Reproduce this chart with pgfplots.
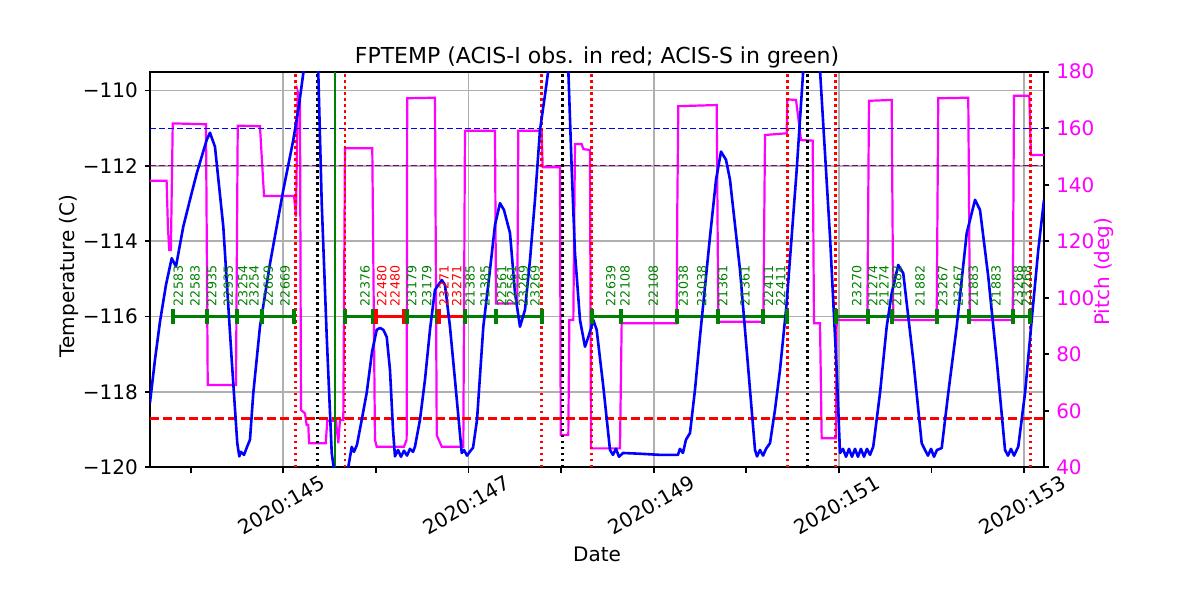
\documentclass[border=0pt]{standalone}
\usepackage{fontspec}
\setmainfont{DejaVu Sans}
\usepackage{pgfplots}
\pgfplotsset{compat=1.18}
\definecolor{mgreen}{HTML}{008000}
\definecolor{mpurple}{HTML}{800080}
\definecolor{mgray}{HTML}{B0B0B0}
\definecolor{mmag}{HTML}{FF00FF}
\definecolor{mblue}{HTML}{0000FF}
\definecolor{mred}{HTML}{FF0000}
\pgfplotsset{
  obs/.style={line width=1.5pt, mark=|, mark size=3.75pt, mark options={solid, line width=2pt}},
  vdot/.style={line width=1.35pt, dash pattern=on 1.4pt off 1.6pt},
}
\tikzset{lab/.style={rotate=90, anchor=west, inner sep=0pt, font=\fontsize{6.3}{7.5}\selectfont}}
\begin{document}
\begin{tikzpicture}
\begin{axis}[
  set layers,
  at={(0,0)}, anchor=south west, scale only axis,
  width=447pt, height=197.8pt,
  xmin=143.5605, xmax=153.2149, ymin=-120, ymax=-109.5,
  xtick={145,147,149,151,153},
  xticklabels={2020:145,2020:147,2020:149,2020:151,2020:153},
  minor xtick={144,146,148,150,152},
  ytick={-120,-118,-116,-114,-112,-110},
  yticklabels={−120,−118,−116,−114,−112,−110},
  xtick pos=left, ytick pos=left,
  tick align=outside,
  major tick length=2.6pt, minor tick length=2.6pt,
  tick style={black, line width=0.9pt},
  xmajorgrids, ymajorgrids,
  major grid style={mgray, line width=0.85pt},
  axis line style={line width=1.15pt},
  tick label style={font=\fontsize{10}{12}\selectfont},
  xticklabel style={anchor=center, yshift=-16.3pt, xshift=-1pt, rotate=30},
  every axis title/.style={at={(0.5,1)}, anchor=base, yshift=4.2pt, font=\fontsize{11}{13}\selectfont},
  every axis x label/.style={at={(axis description cs:0.5,0)}, anchor=base, yshift=-47.2pt, font=\fontsize{10}{12}\selectfont},
  every axis y label/.style={at={(axis description cs:-0.0906,0.484)}, anchor=center, rotate=90, font=\fontsize{10}{12}\selectfont},
  title={FPTEMP (ACIS-I obs. in red; ACIS-S in green)},
  xlabel={Date}, ylabel={Temperature (C)},
]
% limit lines
\addplot[mblue, line width=0.55pt, dash pattern=on 3pt off 1.5pt] coordinates {(143.5605,-111) (153.2149,-111)};
\addplot[mpurple, line width=0.55pt, dash pattern=on 3pt off 1.5pt] coordinates {(143.5605,-112) (153.2149,-112)};
\addplot[mred, line width=1.4pt, dash pattern=on 4.5pt off 2pt] coordinates {(143.5605,-118.7) (153.2149,-118.7)};
% vertical markers
\addplot[mred, vdot] coordinates {(145.132,-120) (145.132,-109.5)};
\addplot[mred, vdot] coordinates {(145.666,-120) (145.666,-109.5)};
\addplot[mred, vdot] coordinates {(147.790,-120) (147.790,-109.5)};
\addplot[mred, vdot] coordinates {(148.330,-120) (148.330,-109.5)};
\addplot[mred, vdot] coordinates {(150.443,-120) (150.443,-109.5)};
\addplot[mred, vdot] coordinates {(150.965,-120) (150.965,-109.5)};
\addplot[mred, vdot] coordinates {(153.067,-120) (153.067,-109.5)};
\addplot[black, vdot] coordinates {(145.370,-120) (145.370,-109.5)};
\addplot[black, vdot] coordinates {(148.013,-120) (148.013,-109.5)};
\addplot[black, vdot] coordinates {(150.661,-120) (150.661,-109.5)};
\addplot[mgreen, line width=1.35pt] coordinates {(145.558,-120) (145.558,-109.5)};
% observations
\addplot[mgreen, obs] coordinates {(143.806,-116) (144.173,-116) (144.503,-116) (144.767,-116) (145.119,-116)};
\addplot[mgreen, obs] coordinates {(145.666,-116) (145.965,-116)};
\addplot[mred, obs] coordinates {(146.001,-116) (146.303,-116)};
\addplot[mgreen, obs] coordinates {(146.333,-116) (146.663,-116)};
\addplot[mred, obs] coordinates {(146.685,-116) (146.962,-116)};
\addplot[mgreen, obs] coordinates {(146.962,-116) (147.294,-116) (147.790,-116)};
\addplot[mgreen, obs] coordinates {(148.330,-116) (148.647,-116) (149.248,-116) (149.691,-116) (150.180,-116) (150.436,-116)};
\addplot[mgreen, obs] coordinates {(150.965,-116) (151.311,-116) (151.570,-116) (152.056,-116) (152.402,-116) (152.880,-116) (153.067,-116)};
% FPTEMP
\addplot[mblue, line width=1.3pt, line join=round] coordinates {
(143.560,-118.29) (143.614,-117.15) (143.668,-116.14) (143.733,-115.16) (143.795,-114.45) (143.841,-114.67) (143.920,-113.61) (143.992,-112.90) (144.065,-112.20) (144.173,-111.31) (144.208,-111.12) (144.262,-111.49) (144.352,-113.61) (144.443,-117.15) (144.503,-119.36) (144.525,-119.71) (144.543,-119.59) (144.576,-119.67) (144.608,-119.46) (144.640,-119.27) (144.676,-118.03) (144.748,-116.27) (144.856,-114.60) (145.000,-112.64) (145.108,-111.31) (145.170,-110.38) (145.216,-109.54) (145.267,-108.40) (145.332,-108.40) (145.378,-109.54) (145.415,-112.99) (145.469,-116.53) (145.523,-119.62) (145.548,-120.07) (145.591,-120.60) (145.655,-120.60) (145.702,-119.99) (145.739,-119.46) (145.763,-119.59) (145.796,-119.40) (145.847,-118.74) (145.901,-118.02) (145.958,-116.94) (146.009,-116.35) (146.044,-116.30) (146.080,-116.35) (146.117,-116.54) (146.152,-117.41) (146.185,-119.01) (146.206,-119.71) (146.239,-119.54) (146.271,-119.72) (146.303,-119.56) (146.336,-119.69) (146.368,-119.51) (146.401,-119.59) (146.422,-119.45) (146.476,-118.74) (146.530,-117.68) (146.584,-116.35) (146.638,-115.29) (146.711,-115.03) (146.746,-115.16) (146.800,-116.27) (146.854,-117.68) (146.927,-119.62) (146.951,-119.54) (146.984,-119.69) (147.016,-119.58) (147.049,-119.48) (147.092,-118.74) (147.160,-116.27) (147.232,-114.76) (147.286,-113.57) (147.340,-112.99) (147.383,-113.17) (147.448,-113.78) (147.502,-115.37) (147.556,-116.27) (147.610,-115.82) (147.664,-114.50) (147.718,-112.90) (147.772,-111.05) (147.826,-110.12) (147.862,-109.46) (147.912,-108.40) (148.042,-108.40) (148.078,-109.46) (148.115,-112.11) (148.150,-114.32) (148.204,-116.09) (148.258,-116.80) (148.301,-116.49) (148.348,-116.09) (148.384,-116.35) (148.456,-117.86) (148.528,-119.54) (148.560,-119.67) (148.593,-119.51) (148.625,-119.72) (148.669,-119.62) (148.852,-119.64) (149.068,-119.67) (149.262,-119.67) (149.284,-119.51) (149.316,-119.62) (149.348,-119.27) (149.392,-119.09) (149.446,-117.94) (149.500,-116.53) (149.608,-113.88) (149.673,-112.37) (149.727,-111.62) (149.781,-111.84) (149.824,-112.37) (149.932,-114.76) (150.022,-117.41) (150.094,-119.54) (150.116,-119.71) (150.148,-119.54) (150.181,-119.69) (150.213,-119.51) (150.256,-119.36) (150.310,-118.47) (150.364,-117.41) (150.436,-115.64) (150.544,-112.11) (150.615,-109.46) (150.666,-108.40) (150.753,-108.40) (150.796,-109.46) (150.904,-113.88) (150.976,-117.41) (151.012,-119.62) (151.044,-119.51) (151.077,-119.72) (151.109,-119.51) (151.141,-119.72) (151.174,-119.51) (151.206,-119.72) (151.238,-119.51) (151.271,-119.72) (151.303,-119.51) (151.336,-119.67) (151.371,-119.45) (151.444,-118.03) (151.516,-116.27) (151.570,-115.38) (151.641,-114.63) (151.695,-114.85) (151.803,-117.15) (151.894,-119.36) (151.930,-119.54) (151.962,-119.69) (151.995,-119.51) (152.027,-119.72) (152.059,-119.54) (152.110,-119.49) (152.181,-118.03) (152.272,-116.27) (152.380,-113.79) (152.470,-112.90) (152.524,-113.17) (152.613,-114.94) (152.704,-117.15) (152.794,-119.54) (152.826,-119.69) (152.858,-119.51) (152.891,-119.69) (152.937,-119.45) (153.010,-118.03) (153.082,-116.09) (153.153,-114.23) (153.215,-112.90)
};
% observation labels
\node[lab, text=mgreen] at (axis cs:143.866,-115.73) {22583};
\node[lab, text=mgreen] at (axis cs:144.046,-115.73) {22583};
\node[lab, text=mgreen] at (axis cs:144.227,-115.73) {22935};
\node[lab, text=mgreen] at (axis cs:144.406,-115.73) {22935};
\node[lab, text=mgreen] at (axis cs:144.562,-115.73) {23254};
\node[lab, text=mgreen] at (axis cs:144.684,-115.73) {23254};
\node[lab, text=mgreen] at (axis cs:144.838,-115.73) {22669};
\node[lab, text=mgreen] at (axis cs:145.018,-115.73) {22669};
\node[lab, text=mgreen] at (axis cs:145.882,-115.73) {22376};
\node[lab, text=mred] at (axis cs:146.063,-115.73) {22480};
\node[lab, text=mred] at (axis cs:146.206,-115.73) {22480};
\node[lab, text=mgreen] at (axis cs:146.387,-115.73) {23179};
\node[lab, text=mgreen] at (axis cs:146.549,-115.73) {23179};
\node[lab, text=mred] at (axis cs:146.735,-115.73) {23271};
\node[lab, text=mred] at (axis cs:146.873,-115.73) {23271};
\node[lab, text=mgreen] at (axis cs:147.016,-115.73) {21385};
\node[lab, text=mgreen] at (axis cs:147.178,-115.73) {21385};
\node[lab, text=mgreen] at (axis cs:147.359,-115.73) {22561};
\node[lab, text=mgreen] at (axis cs:147.467,-115.73) {22561};
\node[lab, text=mgreen] at (axis cs:147.592,-115.73) {23269};
\node[lab, text=mgreen] at (axis cs:147.718,-115.73) {23269};
\node[lab, text=mgreen] at (axis cs:148.536,-115.73) {22639};
\node[lab, text=mgreen] at (axis cs:148.690,-115.73) {22108};
\node[lab, text=mgreen] at (axis cs:148.996,-115.73) {22108};
\node[lab, text=mgreen] at (axis cs:149.320,-115.73) {23038};
\node[lab, text=mgreen] at (axis cs:149.518,-115.73) {23038};
\node[lab, text=mgreen] at (axis cs:149.745,-115.73) {21361};
\node[lab, text=mgreen] at (axis cs:149.986,-115.73) {21361};
\node[lab, text=mgreen] at (axis cs:150.238,-115.73) {22411};
\node[lab, text=mgreen] at (axis cs:150.372,-115.73) {22411};
\node[lab, text=mgreen] at (axis cs:151.192,-115.73) {23270};
\node[lab, text=mgreen] at (axis cs:151.365,-115.73) {21274};
\node[lab, text=mgreen] at (axis cs:151.487,-115.73) {21274};
\node[lab, text=mgreen] at (axis cs:151.624,-115.73) {21882};
\node[lab, text=mgreen] at (axis cs:151.876,-115.73) {21882};
\node[lab, text=mgreen] at (axis cs:152.121,-115.73) {23267};
\node[lab, text=mgreen] at (axis cs:152.289,-115.73) {23267};
\node[lab, text=mgreen] at (axis cs:152.451,-115.73) {21883};
\node[lab, text=mgreen] at (axis cs:152.697,-115.73) {21883};
\node[lab, text=mgreen] at (axis cs:152.934,-115.73) {23268};
\node[lab, text=mgreen] at (axis cs:153.026,-115.73) {23268};
\end{axis}
\begin{axis}[
  set layers,
  at={(0,0)}, anchor=south west, scale only axis,
  width=447pt, height=197.8pt,
  xmin=143.5605, xmax=153.2149, ymin=40, ymax=180,
  hide x axis, axis y line*=right,
  ytick={40,60,80,100,120,140,160,180},
  yticklabels={40,60,80,100,120,140,160,180},
  tick align=outside, major tick length=2.6pt,
  tick style={black, line width=0.9pt},
  axis line style={line width=1.15pt},
  yticklabel style={font=\fontsize{10}{12}\selectfont, text=mmag},
  every axis y label/.style={at={(axis description cs:1.0671,0.4944)}, anchor=center, rotate=90, font=\fontsize{10}{12}\selectfont, text=mmag},
  ylabel={Pitch (deg)},
]
\addplot[mmag, line width=1.1pt, on layer=pre main] coordinates {
(143.560,141.4) (143.740,141.4) (143.754,125) (143.768,116.9) (143.786,116.9) (143.806,161.7) (144.165,161.4) (144.184,69.1) (144.489,69.1) (144.508,160.9) (144.748,160.7) (144.792,136.0) (145.116,136.0) (145.137,128.7) (145.156,172.9) (145.180,170.0) (145.191,60.3) (145.234,59.1) (145.252,55.0) (145.270,55.0) (145.278,48.5) (145.458,48.5) (145.475,56.5) (145.569,56.5) (145.594,48.5) (145.612,56.7) (145.648,56.7) (145.666,152.9) (145.961,152.9) (145.990,49.7) (146.009,47.3) (146.303,47.3) (146.332,49.7) (146.338,170.6) (146.638,170.8) (146.657,51.4) (146.711,47.3) (146.944,47.3) (146.962,159.1) (147.286,159.1) (147.297,98.0) (147.527,98.0) (147.538,159.1) (147.790,159.1) (147.801,146.2) (147.988,146.2) (147.996,51.4) (148.078,51.4) (148.089,92.1) (148.132,92.1) (148.150,154.4) (148.222,154.4) (148.240,152.6) (148.312,152.3) (148.323,46.7) (148.636,46.7) (148.654,91.0) (149.248,91.0) (149.255,132.2) (149.266,167.8) (149.680,168.2) (149.698,91.5) (150.184,91.5) (150.202,157.6) (150.436,158.2) (150.443,170.2) (150.537,170.0) (150.591,155.8) (150.717,155.6) (150.731,91.0) (150.796,91.0) (150.814,50.3) (150.969,50.3) (150.976,92.1) (151.307,92.1) (151.325,169.7) (151.570,170.0) (151.587,92.1) (152.056,92.1) (152.073,170.6) (152.397,170.8) (152.415,92.1) (152.877,92.1) (152.891,171.5) (153.056,171.5) (153.074,150.5) (153.215,150.5)
};
\end{axis}
\pgfresetboundingbox
\useasboundingbox (-75pt,-66.35pt) rectangle (525pt,233.65pt);
\end{tikzpicture}
\end{document}
